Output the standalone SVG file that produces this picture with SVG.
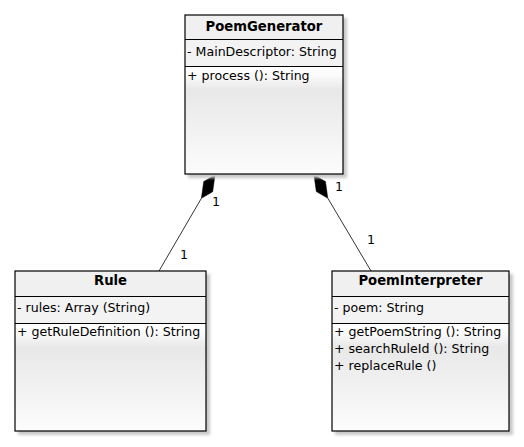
<svg xmlns="http://www.w3.org/2000/svg" width="524" height="447" viewBox="0 0 524 447">
<defs>
<linearGradient id="mg" x1="0" y1="0" x2="0" y2="1">
<stop offset="0" stop-color="#ffffff"/>
<stop offset="0.08" stop-color="#fcfcfc"/>
<stop offset="0.22" stop-color="#e8e8e8"/>
<stop offset="1" stop-color="#fcfcfc"/>
</linearGradient>
<filter id="sh" x="-10%" y="-10%" width="130%" height="130%">
<feGaussianBlur stdDeviation="1.5"/>
</filter>
</defs>
<style>
.shadow{fill:#c8c8c8;filter:url(#sh)}
.hd{fill:#f0f0f0;stroke:none}
.at{fill:#f3f3f3;stroke:none}
.me{fill:url(#mg);stroke:none}
.frame{fill:none;stroke:#000;stroke-width:1.2}
.div{stroke:#000;stroke-width:1}
.t{font-family:"DejaVu Sans",Verdana,sans-serif;font-size:12.6px;fill:#000}
.tb{font-family:"DejaVu Sans",Verdana,sans-serif;font-size:13.2px;font-weight:bold;fill:#000;text-anchor:middle}
.ln{stroke:#000;stroke-width:0.8;fill:none}
.dm{fill:#000;stroke:#000;stroke-width:0.5}
</style>
<rect width="524" height="447" fill="#fff"/>
<g id="connectors">
<line class="ln" x1="201.4" y1="198.3" x2="159" y2="271"/>
<polygon class="dm" points="215,175 212.7,191.7 201.4,198.3 203.7,181.6"/>
<line class="ln" x1="327.8" y1="198.2" x2="371" y2="271"/>
<polygon class="dm" points="314,175 325.5,181.6 327.8,198.2 316.3,191.6"/>
<text class="t" x="212" y="206">1</text>
<text class="t" x="180" y="259">1</text>
<text class="t" x="335" y="191">1</text>
<text class="t" x="367" y="244">1</text>
</g>
<g id="PoemGenerator">
<rect class="shadow" x="188" y="18" width="159" height="160"/>
<rect class="hd" x="185" y="15" width="158" height="24"/>
<rect class="at" x="185" y="39" width="158" height="27"/>
<rect class="me" x="185" y="66" width="158" height="108"/>
<rect class="frame" x="185" y="15" width="158" height="159"/>
<line class="div" x1="185" y1="39.5" x2="343" y2="39.5"/>
<line class="div" x1="185" y1="66.5" x2="343" y2="66.5"/>
<text class="tb" x="264" y="31">PoemGenerator</text>
<text class="t" x="187" y="56">- MainDescriptor: String</text>
<text class="t" x="187" y="80">+ process (): String</text>
</g>
<g id="Rule">
<rect class="shadow" x="18" y="274" width="192" height="161"/>
<rect class="hd" x="15" y="271" width="191" height="25"/>
<rect class="at" x="15" y="296" width="191" height="27"/>
<rect class="me" x="15" y="323" width="191" height="108"/>
<rect class="frame" x="15" y="271" width="191" height="160"/>
<line class="div" x1="15" y1="296.5" x2="206" y2="296.5"/>
<line class="div" x1="15" y1="323.5" x2="206" y2="323.5"/>
<text class="tb" x="110.5" y="285">Rule</text>
<text class="t" x="17" y="312">- rules: Array (String)</text>
<text class="t" x="17" y="336">+ getRuleDefinition (): String</text>
</g>
<g id="PoemInterpreter">
<rect class="shadow" x="335" y="274" width="178" height="161"/>
<rect class="hd" x="332" y="271" width="177" height="25"/>
<rect class="at" x="332" y="296" width="177" height="27"/>
<rect class="me" x="332" y="323" width="177" height="108"/>
<rect class="frame" x="332" y="271" width="177" height="160"/>
<line class="div" x1="332" y1="296.5" x2="509" y2="296.5"/>
<line class="div" x1="332" y1="323.5" x2="509" y2="323.5"/>
<text class="tb" x="420.5" y="285">PoemInterpreter</text>
<text class="t" x="334" y="312">- poem: String</text>
<text class="t" x="334" y="336">+ getPoemString (): String</text>
<text class="t" x="334" y="353">+ searchRuleId (): String</text>
<text class="t" x="334" y="370">+ replaceRule ()</text>
</g>
</svg>
